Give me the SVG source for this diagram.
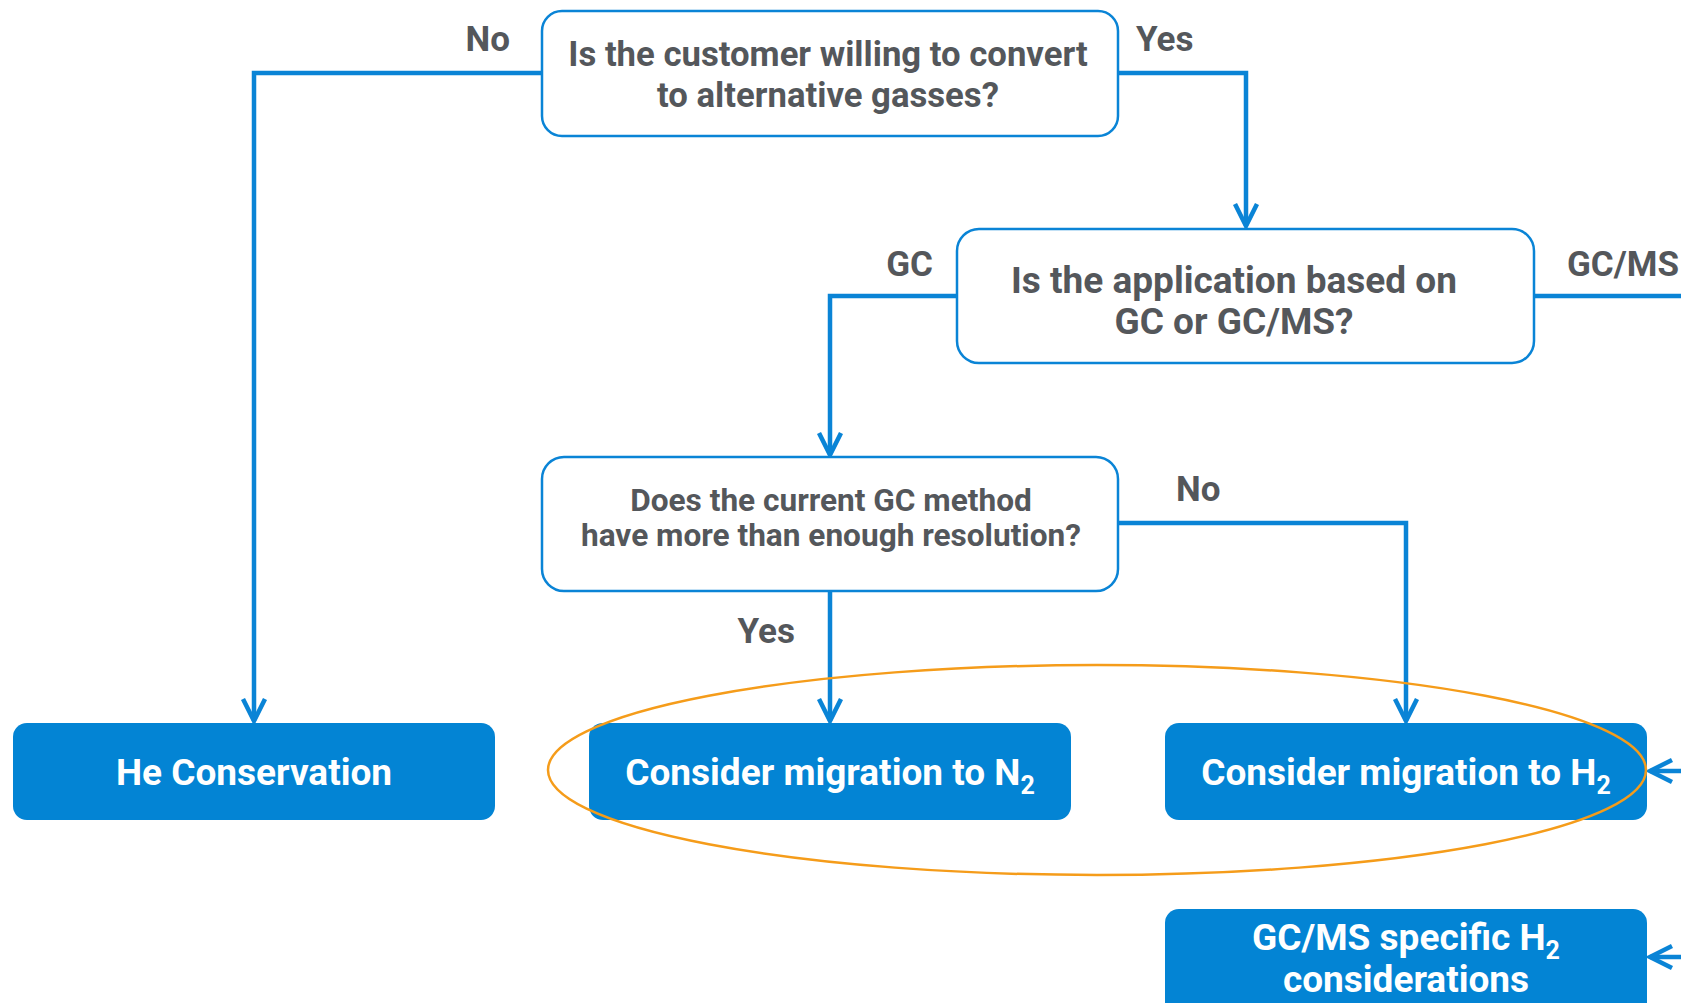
<svg xmlns="http://www.w3.org/2000/svg" width="1681" height="1003" viewBox="0 0 1681 1003">
<style>
.q{fill:#fff;stroke:#0A84D6;stroke-width:2.5}
.b{fill:#0384D4}
.t{font-family:Roboto,"Liberation Sans",sans-serif;font-weight:bold;fill:#54575B;text-anchor:middle}
.w{font-family:Roboto,"Liberation Sans",sans-serif;font-weight:bold;fill:#fff;text-anchor:middle;font-size:37px}
.l{font-family:Roboto,"Liberation Sans",sans-serif;font-weight:bold;fill:#54575B;font-size:35px}
.c{fill:none;stroke:#0A84D6;stroke-width:4.5}
</style>
<defs>
<marker id="ah" markerUnits="userSpaceOnUse" viewBox="-26 -14 30 28" refX="0" refY="0" markerWidth="30" markerHeight="28" orient="auto" overflow="visible">
<path d="M-22,-11 L0,0 L-22,11" fill="none" stroke="#0A84D6" stroke-width="4.5" stroke-linejoin="miter"/>
</marker>
</defs>
<g id="connectors">
<path class="c" d="M542,73 H254 V721" marker-end="url(#ah)"/>
<path class="c" d="M1118,73 H1246 V226" marker-end="url(#ah)"/>
<path class="c" d="M957,296 H830 V455" marker-end="url(#ah)"/>
<path class="c" d="M1534,296 H1681"/>
<path class="c" d="M1118,523 H1406 V721" marker-end="url(#ah)"/>
<path class="c" d="M830,591 V721" marker-end="url(#ah)"/>
<path class="c" d="M1681,771 H1650" marker-end="url(#ah)"/>
<path class="c" d="M1681,957 H1650" marker-end="url(#ah)"/>
</g>
<g id="labels">
<text class="l" x="510" y="51" text-anchor="end">No</text>
<text class="l" x="1136" y="51">Yes</text>
<text class="l" x="933" y="276" text-anchor="end">GC</text>
<text class="l" x="1567" y="276">GC/MS</text>
<text class="l" x="1176" y="501">No</text>
<text class="l" x="795" y="643" text-anchor="end">Yes</text>
</g>
<g id="q1">
<rect class="q" x="542" y="11" width="576" height="125" rx="20"/>
<text class="t" x="828" y="66" font-size="34.7">Is the customer willing to convert</text>
<text class="t" x="828" y="107" font-size="34.7">to alternative gasses?</text>
</g>
<g id="q2">
<rect class="q" x="957" y="229" width="577" height="134" rx="22"/>
<text class="t" x="1234" y="293" font-size="37">Is the application based on</text>
<text class="t" x="1234" y="334" font-size="37">GC or GC/MS?</text>
</g>
<g id="q3">
<rect class="q" x="542" y="457" width="576" height="134" rx="22"/>
<text class="t" x="831" y="511" font-size="31.6">Does the current GC method</text>
<text class="t" x="831" y="546" font-size="31.6">have more than enough resolution?</text>
</g>
<g id="he">
<rect class="b" x="13" y="723" width="482" height="97" rx="14"/>
<text class="w" x="254" y="785">He Conservation</text>
</g>
<g id="n2">
<rect class="b" x="589" y="723" width="482" height="97" rx="14"/>
<text class="w" x="830" y="785">Consider migration to N<tspan font-size="25" dy="9">2</tspan></text>
</g>
<g id="h2">
<rect class="b" x="1165" y="723" width="482" height="97" rx="14"/>
<text class="w" x="1406" y="785">Consider migration to H<tspan font-size="25" dy="9">2</tspan></text>
</g>
<g id="gcms">
<rect class="b" x="1165" y="909" width="482" height="110" rx="14"/>
<text class="w" x="1406" y="950">GC/MS specific H<tspan font-size="25" dy="9">2</tspan></text>
<text class="w" x="1406" y="992">considerations</text>
</g>
<ellipse id="highlight" cx="1097" cy="770" rx="549" ry="105" fill="none" stroke="#F59C1A" stroke-width="2.5"/>
</svg>
